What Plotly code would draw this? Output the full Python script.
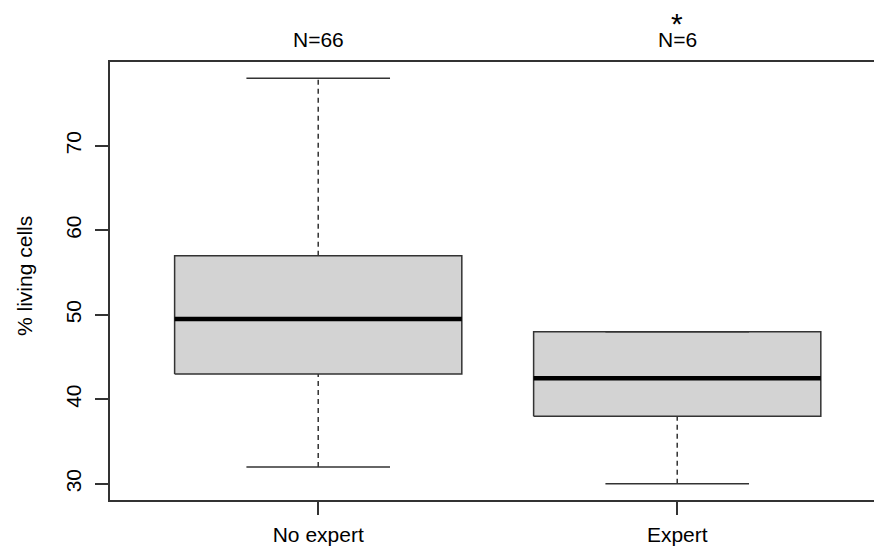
import plotly.graph_objects as go

# ---- data ----
categories = ["No expert", "Expert"]
counts = [66, 6]
lower_whisker = [32, 30]
q1 = [43, 38]
median = [49.5, 42.5]
q3 = [57, 48]
upper_whisker = [78, 48]
significance = ["", "*"]
y_ticks = [30, 40, 50, 60, 70]

FONT = "Liberation Sans, Arial, sans-serif"
LINE = "#333333"
W, H = 874, 549
ML, MR, MT, MB = 110, 0, 62, 49
pw, ph = W - ML - MR, H - MT - MB

positions = list(range(1, len(categories) + 1))
box_half = 0.4
cap_half = 0.2

fig = go.Figure()

for i, pos in enumerate(positions):
    fig.add_trace(go.Scatter(
        x=[pos - box_half, pos + box_half, pos + box_half, pos - box_half, pos - box_half],
        y=[q1[i], q1[i], q3[i], q3[i], q1[i]],
        mode="lines", fill="toself", fillcolor="#D3D3D3",
        line=dict(color=LINE, width=1.5), hoverinfo="skip", showlegend=False))
    fig.add_trace(go.Scatter(
        x=[pos, pos], y=[q3[i], upper_whisker[i]], mode="lines",
        line=dict(color=LINE, width=1.5, dash="5px,4px"), hoverinfo="skip", showlegend=False))
    fig.add_trace(go.Scatter(
        x=[pos, pos], y=[lower_whisker[i], q1[i]], mode="lines",
        line=dict(color=LINE, width=1.5, dash="5px,4px"), hoverinfo="skip", showlegend=False))
    for v in (lower_whisker[i], upper_whisker[i]):
        fig.add_trace(go.Scatter(
            x=[pos - cap_half, pos + cap_half], y=[v, v], mode="lines",
            line=dict(color=LINE, width=1.5), hoverinfo="skip", showlegend=False))
    fig.add_trace(go.Scatter(
        x=[pos - box_half, pos + box_half], y=[median[i], median[i]], mode="lines",
        line=dict(color="black", width=4.5), hoverinfo="skip", showlegend=False))

ymin = min(lower_whisker); ymax = max(upper_whisker)
ext = (ymax - ymin) * 0.04
y_range = [ymin - ext, ymax + ext]
x_left = 0.42
x_unit_px = 359.0
x_range = [x_left, x_left + pw / x_unit_px]

def py_to_paper(py):
    return (H - MB - py) / ph

def px_to_paper(px):
    return (px - ML) / pw

annotations = []
for i, pos in enumerate(positions):
    annotations.append(dict(x=pos, y=py_to_paper(40), xref="x", yref="paper",
                            text=f"N={counts[i]}", showarrow=False,
                            xanchor="center", yanchor="middle",
                            font=dict(family=FONT, size=21, color="black")))
    if significance[i]:
        annotations.append(dict(x=pos, y=py_to_paper(23), xref="x", yref="paper",
                                text=significance[i], showarrow=False,
                                xanchor="center", yanchor="middle",
                                font=dict(family=FONT, size=30, color="black")))
annotations.append(dict(x=px_to_paper(24), y=py_to_paper(276), xref="paper", yref="paper",
                        text="% living cells", textangle=-90, showarrow=False,
                        xanchor="center", yanchor="middle",
                        font=dict(family=FONT, size=21, color="black")))

fig.update_layout(
    width=W, height=H,
    margin=dict(l=ML, r=MR, t=MT, b=MB, pad=0),
    paper_bgcolor="white", plot_bgcolor="white",
    showlegend=False,
    annotations=annotations,
    xaxis=dict(range=x_range, tickvals=positions, ticktext=categories,
               showgrid=False, zeroline=False,
               showline=True, mirror=True, linecolor=LINE, linewidth=1.5,
               ticks="outside", ticklen=13, tickwidth=1.5, tickcolor=LINE,
               tickfont=dict(family=FONT, size=21, color="black"),
               ticklabelstandoff=2),
    yaxis=dict(range=y_range, tickvals=y_ticks, ticktext=[str(t) for t in y_ticks],
               showgrid=False, zeroline=False,
               showline=True, mirror=False, linecolor=LINE, linewidth=1.5,
               ticks="outside", ticklen=13, tickwidth=1.5, tickcolor=LINE,
               tickangle=-90,
               tickfont=dict(family=FONT, size=21, color="black"),
               ticklabelstandoff=6),
)

fig.write_html("out.html",
               config={"displayModeBar": False},
               post_script="document.body.style.margin='0';"
                           "document.body.style.overflow='hidden';"
                           "document.documentElement.style.overflow='hidden';")
